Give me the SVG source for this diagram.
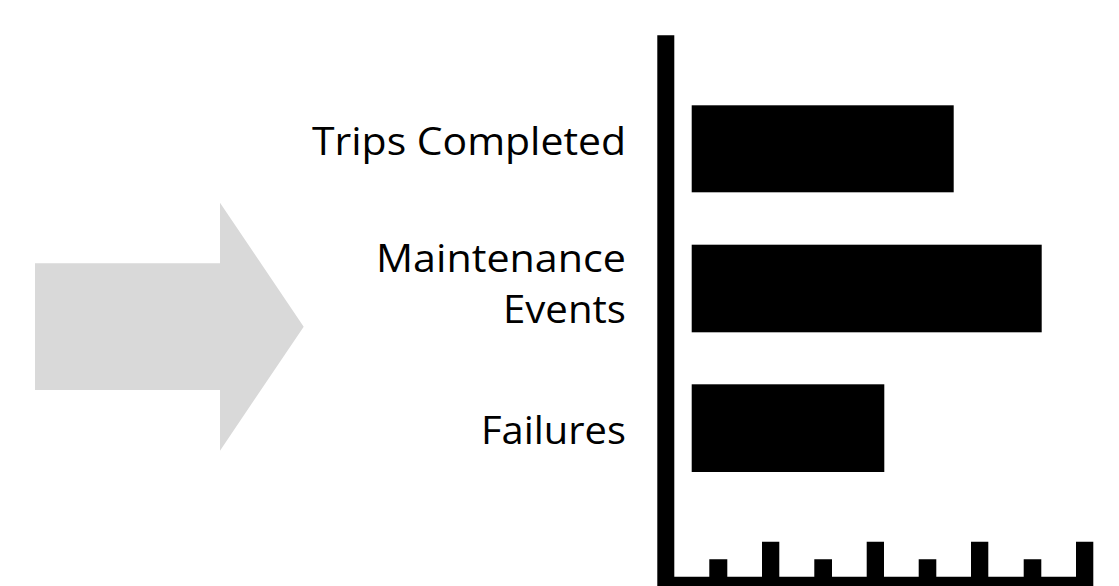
<svg xmlns="http://www.w3.org/2000/svg" width="1119" height="586" viewBox="0 0 1119 586">
<style>
.lbl{font-family:"Open Sans","Liberation Sans",sans-serif;font-size:38px;fill:#000;text-anchor:end}
.bar{fill:#000}
</style>
<rect width="1119" height="586" fill="#fff"/>
<g id="arrow">
<polygon points="35,263.3 220,263.3 220,202.7 303.7,326.7 220,450.7 220,390 35,390" fill="#d9d9d9"/>
</g>
<g id="axis">
<path d="M657.3,35.3 H674.3 V576.7 H709.3 V559.3 H727.3 V576.7 H762 V541.7 H779.3 V576.7 H814.3 V559.3 H832 V576.7 H866.7 V541.7 H884 V576.7 H918.7 V559.3 H936.3 V576.7 H971 V541.7 H988.3 V576.7 H1023.7 V559.3 H1041.3 V576.7 H1076 V541.7 H1093.3 V590 H657.3 Z" fill="#000"/>
</g>
<g id="trips">
<rect class="bar" x="691.7" y="105.3" width="262" height="87"/>
<text class="lbl" x="626" y="154.5" textLength="314" lengthAdjust="spacingAndGlyphs">Trips Completed</text>
</g>
<g id="maintenance">
<rect class="bar" x="691.7" y="244.7" width="350" height="87.6"/>
<text class="lbl" x="626" y="272" textLength="250" lengthAdjust="spacingAndGlyphs">Maintenance</text>
<text class="lbl" x="626" y="322.5" textLength="123" lengthAdjust="spacingAndGlyphs">Events</text>
</g>
<g id="failures">
<rect class="bar" x="691.7" y="384.3" width="192.6" height="87.7"/>
<text class="lbl" x="626" y="444" textLength="145" lengthAdjust="spacingAndGlyphs">Failures</text>
</g>
<g id="connectors"></g>
</svg>
